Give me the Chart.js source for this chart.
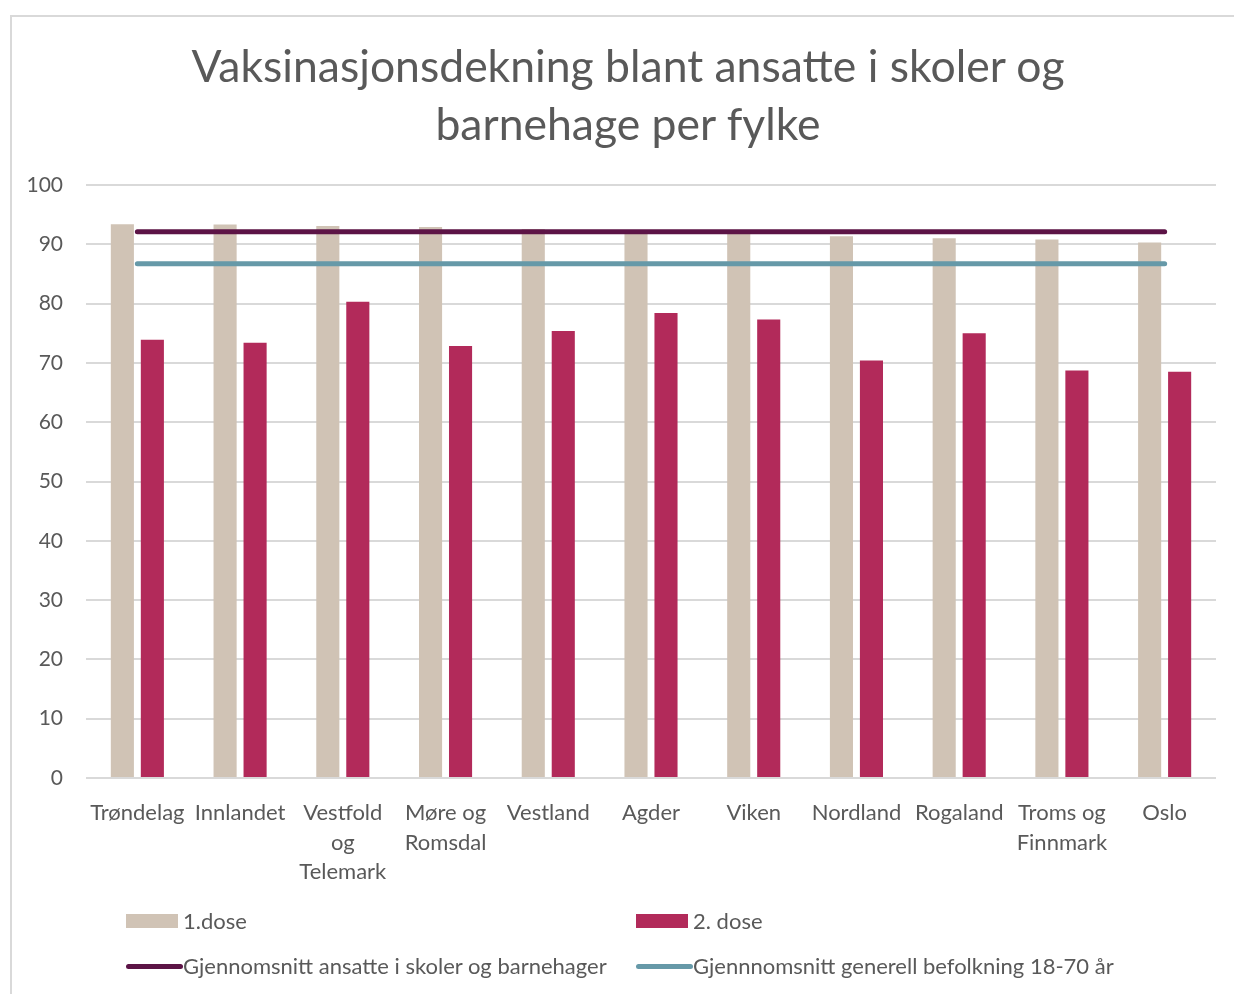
<!DOCTYPE html>
<html>
<head>
<meta charset="utf-8">
<script src="https://cdn.jsdelivr.net/npm/chart.js@4.4.1/dist/chart.umd.min.js"></script>
<style>
  body { margin: 0; background: #fff; overflow: hidden; }
  #frame { position: absolute; left: 10px; top: 15px; width: 1300px; height: 1100px; border: 2px solid #d9d9d9; }
  #title { position: absolute; left: 0; top: 36px; width: 1256px; text-align: center;
           font-family: Lato, sans-serif; font-size: 44.5px; line-height: 58px; color: #595959; }
  #wrap { position: absolute; left: 0; top: 0; width: 1234px; height: 994px; }
  .lg { position: absolute; font-family: Lato, sans-serif; font-size: 22px; color: #595959; white-space: nowrap; }
  .sw { position: absolute; }
</style>
</head>
<body>
<div id="frame"></div>
<div id="wrap"><canvas id="c" width="1234" height="994"></canvas></div>
<div id="title">Vaksinasjonsdekning blant ansatte i skoler og<br>barnehage per fylke</div>
<div id="legend"></div>
<script>
const categories = [
  "Trøndelag", "Innlandet", ["Vestfold", "og", "Telemark"], ["Møre og", "Romsdal"],
  "Vestland", "Agder", "Viken", "Nordland", "Rogaland", ["Troms og", "Finnmark"], "Oslo"
];
const dose1 = [93.4, 93.35, 93.1, 92.9, 92.6, 92.4, 92.2, 91.35, 91.0, 90.8, 90.3];
const dose2 = [73.9, 73.4, 80.3, 72.85, 75.4, 78.4, 77.3, 70.4, 75.0, 68.7, 68.5];
const avgStaff = [92.1, 92.1, 92.1, 92.1, 92.1, 92.1, 92.1, 92.1, 92.1, 92.1, 92.1];
const avgPopulation = [86.7, 86.7, 86.7, 86.7, 86.7, 86.7, 86.7, 86.7, 86.7, 86.7, 86.7];
const yTicks = [0, 10, 20, 30, 40, 50, 60, 70, 80, 90, 100];

const labels1 = "1.dose";
const labels2 = "2. dose";
const labels3 = "Gjennomsnitt ansatte i skoler og barnehager";
const labels4 = "Gjennnomsnitt generell befolkning 18-70 år";

const BEIGE = "#d0c3b5";
const CRIMSON = "#b22a5a";
const PURPLE = "#5c1446";
const TEAL = "#6699a8";
const TEXT = "#595959";
const GRID = "#d9d9d9";

const ctx = document.getElementById("c").getContext("2d");
new Chart(ctx, {
  data: {
    labels: categories,
    datasets: [
      { type: "bar", label: labels1, data: dose1, backgroundColor: BEIGE, order: 2,
        barPercentage: 0.77, categoryPercentage: 0.584 },
      { type: "bar", label: labels2, data: dose2, backgroundColor: CRIMSON, order: 2,
        barPercentage: 0.77, categoryPercentage: 0.584 },
      { type: "line", label: labels3, data: avgStaff, borderColor: PURPLE, borderWidth: 5,
        borderCapStyle: "round", pointRadius: 0, order: 1 },
      { type: "line", label: labels4, data: avgPopulation, borderColor: TEAL, borderWidth: 5,
        borderCapStyle: "round", pointRadius: 0, order: 1 }
    ]
  },
  options: {
    responsive: false,
    animation: false,
    layout: { padding: { top: 185, right: 18, left: 0, bottom: 0 } },
    plugins: { legend: { display: false }, title: { display: false }, tooltip: { enabled: false } },
    scales: {
      x: {
        grid: { display: false },
        border: { display: false },
        ticks: { color: TEXT, font: { family: "Lato", size: 22, lineHeight: 1.35 },
                 padding: 12, autoSkip: false, maxRotation: 0, minRotation: 0 },
        afterFit: s => { s.height = 216; }
      },
      y: {
        min: 0, max: 100,
        afterBuildTicks: s => { s.ticks = yTicks.map(v => ({ value: v })); },
        grid: { color: GRID, lineWidth: 2, drawTicks: false },
        border: { display: false },
        ticks: { color: TEXT, font: { family: "Lato", size: 21 }, padding: 23 },
        afterFit: s => { s.width = 86; }
      }
    }
  }
});

// legend laid out in two columns like the original
const legendItems = [
  { text: labels1, color: BEIGE, kind: "box", x: 126, y: 907 },
  { text: labels2, color: CRIMSON, kind: "box", x: 636, y: 907 },
  { text: labels3, color: PURPLE, kind: "line", x: 126, y: 952 },
  { text: labels4, color: TEAL, kind: "line", x: 636, y: 952 }
];
const legend = document.getElementById("legend");
legendItems.forEach(it => {
  const sw = document.createElement("div");
  sw.className = "sw";
  if (it.kind === "box") {
    sw.style.cssText = `left:${it.x}px;top:${it.y + 7}px;width:52px;height:14px;background:${it.color}`;
  } else {
    sw.style.cssText = `left:${it.x}px;top:${it.y + 12}px;width:57px;height:5px;border-radius:3px;background:${it.color}`;
  }
  legend.appendChild(sw);
  const t = document.createElement("div");
  t.className = "lg";
  t.style.left = (it.x + 57) + "px";
  t.style.top = it.y + "px";
  t.textContent = it.text;
  legend.appendChild(t);
});
</script>
</body>
</html>
